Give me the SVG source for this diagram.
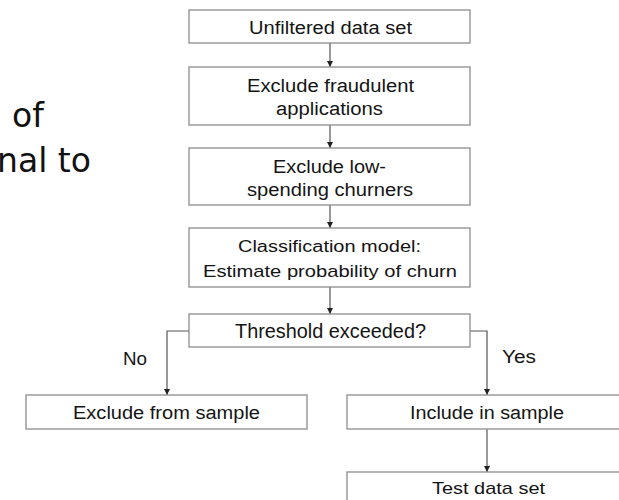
<svg xmlns="http://www.w3.org/2000/svg" width="619" height="500" viewBox="0 0 619 500">
<style>
.box{fill:#ffffff;stroke:#8c8c8c;stroke-width:1.3}
.t{font-family:"Liberation Sans",Arial,sans-serif;fill:#141414;text-anchor:middle}
.c{fill:none;stroke:#555;stroke-width:1.2}
.slide{font-family:"DejaVu Sans",Verdana,sans-serif;font-size:33px;fill:#111}
</style>
<defs>
<marker id="ah" markerWidth="8" markerHeight="8" refX="7" refY="4" orient="auto" markerUnits="userSpaceOnUse">
<path d="M1,1 L7,4 L1,7 Z" fill="#222"/>
</marker>
</defs>
<rect width="619" height="500" fill="#ffffff"/>
<g id="slide-text">
<text class="slide" x="12" y="127">of</text>
<text class="slide" x="91" y="172" text-anchor="end">nal to</text>
</g>
<g id="connectors">
<line class="c" x1="330" y1="43" x2="330" y2="67" marker-end="url(#ah)"/>
<line class="c" x1="330" y1="125" x2="330" y2="148" marker-end="url(#ah)"/>
<line class="c" x1="330" y1="205" x2="330" y2="228" marker-end="url(#ah)"/>
<line class="c" x1="330" y1="287" x2="330" y2="314" marker-end="url(#ah)"/>
<polyline class="c" points="189,331 167,331 167,395" marker-end="url(#ah)"/>
<polyline class="c" points="470,331 487,331 487,395" marker-end="url(#ah)"/>
<line class="c" x1="487" y1="429" x2="487" y2="472" marker-end="url(#ah)"/>
<text class="t" x="135" y="365" font-size="18" textLength="24" lengthAdjust="spacingAndGlyphs">No</text>
<text class="t" x="519" y="363" font-size="18" textLength="34" lengthAdjust="spacingAndGlyphs">Yes</text>
</g>
<g id="unfiltered">
<rect class="box" x="189" y="10" width="281" height="33"/>
<text class="t" x="330.5" y="34" font-size="17.5" textLength="163" lengthAdjust="spacingAndGlyphs">Unfiltered data set</text>
</g>
<g id="fraud">
<rect class="box" x="189" y="67" width="281" height="58"/>
<text class="t" x="330.5" y="92" font-size="18" textLength="167" lengthAdjust="spacingAndGlyphs">Exclude fraudulent</text>
<text class="t" x="329.5" y="115" font-size="18" textLength="107" lengthAdjust="spacingAndGlyphs">applications</text>
</g>
<g id="lowspend">
<rect class="box" x="189" y="148" width="281" height="57"/>
<text class="t" x="329.5" y="173" font-size="18" textLength="113" lengthAdjust="spacingAndGlyphs">Exclude low-</text>
<text class="t" x="330" y="196" font-size="18" textLength="166" lengthAdjust="spacingAndGlyphs">spending churners</text>
</g>
<g id="classification">
<rect class="box" x="189" y="228" width="281" height="59"/>
<text class="t" x="329.5" y="252" font-size="16" textLength="183" lengthAdjust="spacingAndGlyphs">Classification model:</text>
<text class="t" x="330" y="277" font-size="17" textLength="254" lengthAdjust="spacingAndGlyphs">Estimate probability of churn</text>
</g>
<g id="threshold">
<rect class="box" x="189" y="314" width="281" height="33"/>
<text class="t" x="330.5" y="338" font-size="20" textLength="191" lengthAdjust="spacingAndGlyphs">Threshold exceeded?</text>
</g>
<g id="exclude">
<rect class="box" x="26" y="395" width="281" height="34"/>
<text class="t" x="166.5" y="419" font-size="18" textLength="187" lengthAdjust="spacingAndGlyphs">Exclude from sample</text>
</g>
<g id="include">
<rect class="box" x="347" y="395" width="281" height="34"/>
<text class="t" x="487" y="419" font-size="18" textLength="154" lengthAdjust="spacingAndGlyphs">Include in sample</text>
</g>
<g id="test">
<rect class="box" x="347" y="472" width="281" height="40"/>
<text class="t" x="488.5" y="494" font-size="17" textLength="113" lengthAdjust="spacingAndGlyphs">Test data set</text>
</g>
</svg>
